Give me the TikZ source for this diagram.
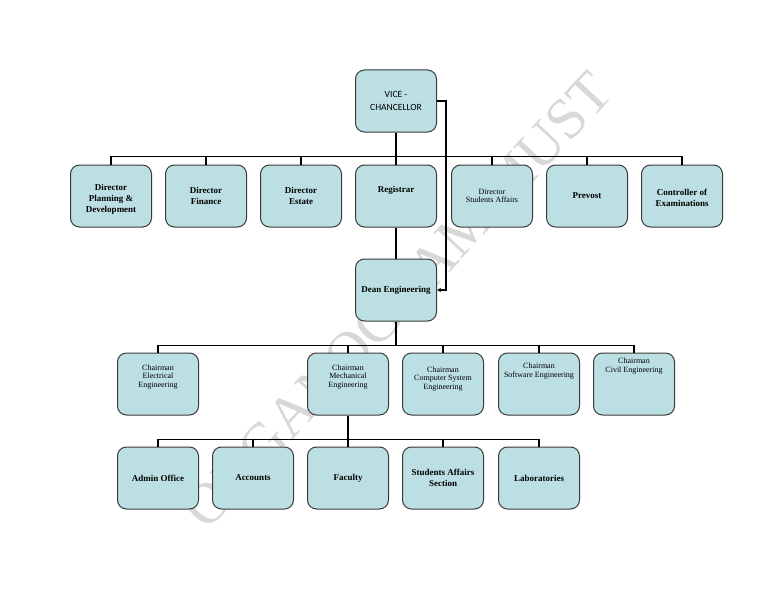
\documentclass[tikz,border=0pt]{standalone}
\usepackage{fontspec}
\setmainfont{Liberation Serif}
\newfontfamily\vcfont{Carlito}
\usetikzlibrary{arrows.meta}
\definecolor{cell}{HTML}{BCDFE3}
\definecolor{edge}{HTML}{3A3A3A}
\definecolor{ghost}{HTML}{D8D8D8}

\begin{document}
\begin{tikzpicture}[x=1pt,y=1pt,
    box/.style={draw=edge,line width=1pt,rounded corners=9pt,fill=cell,
      minimum width=81pt,minimum height=62pt,inner sep=2pt,align=center,
      font=\bfseries\fontsize{9}{11}\selectfont},
    thin/.style={box,font=\fontsize{8}{8.5}\selectfont},
    lift/.style={text depth=#1},
    sink/.style={text height=#1},
    conn/.style={draw=black,line width=1.9pt},
    arr/.style={conn,-{Stealth[length=4pt,width=4pt]}},
    wmark/.style={text=ghost,font=\fontsize{58}{58}\selectfont,rotate=47}
  ]
  \useasboundingbox (0,0) rectangle (768,-594);
  % watermark, behind the boxes
  \node[wmark] (wm) at (398,-300) {ORGANOGRAM MUST};

  % head
  \node[box,font=\vcfont\fontsize{9.5}{13}\selectfont] (vc) at (396,-101) {VICE -\\CHANCELLOR};

  % directors
  \node[box,sink=34pt] (d1) at (111,-196) {Director\\Planning \&\\Development};
  \node[box] (d2) at (206,-196) {Director\\Finance};
  \node[box] (d3) at (301,-196) {Director\\Estate};
  \node[box,lift=14pt] (d4) at (396,-196) {Registrar};
  \node[thin] (d5) at (492,-196) {Director\\Students Affairs};
  \node[box] (d6) at (587,-196) {Prevost};
  \node[box,sink=22pt] (d7) at (682,-196) {Controller of\\Examinations};

  \node[box] (dean) at (396,-290) {Dean Engineering};

  % chairmen
  \node[thin,lift=16pt] (c1) at (158,-384) {Chairman\\Electrical\\Engineering};
  \node[thin,lift=16pt] (c2) at (348,-384) {Chairman\\Mechanical\\Engineering};
  \node[thin,lift=12pt] (c3) at (443,-384) {Chairman\\Computer System\\Engineering};
  \node[thin,lift=28pt] (c4) at (539,-384) {Chairman\\Software Engineering};
  \node[thin,lift=38pt] (c5) at (634,-384) {Chairman\\Civil Engineering};

  % sections
  \node[box] (s1) at (158,-478) {Admin Office};
  \node[box] (s2) at (253,-478) {Accounts};
  \node[box] (s3) at (348,-478) {Faculty};
  \node[box] (s4) at (443,-478) {Students Affairs\\Section};
  \node[box] (s5) at (539,-478) {Laboratories};

  % connectors
  \draw[conn] (vc.south) -- ++(0,-24) coordinate (bus1);
  \foreach \i in {1,...,7} \draw[conn] (bus1) -| (d\i.north);
  \draw[conn] (d4) -- (dean);
  \draw[arr] (vc.east) -- ++(9,0) |- (dean.east);

  \draw[conn] (dean.south) -- ++(0,-24) coordinate (bus2);
  \foreach \i in {1,...,5} \draw[conn] (bus2) -| (c\i.north);

  \draw[conn] (c2.south) -- ++(0,-24) coordinate (bus3);
  \foreach \i in {1,...,5} \draw[conn] (bus3) -| (s\i.north);
\end{tikzpicture}
\end{document}
